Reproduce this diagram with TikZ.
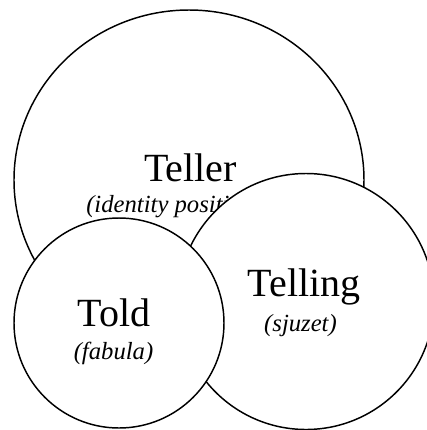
\documentclass[tikz,border=0pt]{standalone}
\usepackage{fontspec}
\setmainfont{Liberation Serif}
\tikzset{
  ring/.style={draw=black,line width=1.1pt,fill=white},
  bigword/.style={anchor=base,inner sep=0pt,font=\fontsize{30}{36}\selectfont},
  smallword/.style={anchor=base,inner sep=0pt,font=\fontsize{18.5}{22}\selectfont\itshape}
}
\begin{document}
\begin{tikzpicture}[x=0.75pt,y=-0.75pt]
\useasboundingbox (0,0) rectangle (427,430);
\clip (0,0) rectangle (427,430);
\draw[ring] (189,180) ellipse [x radius=175,y radius=170];
\node[bigword] (teller) at (190.5,181.5) {Teller};
\node[smallword,anchor=base west] (identity) at (86,212) {(identity position)};
\draw[ring] (306,301.5) circle [radius=128];
\node[bigword] (telling) at (304,296) {Telling};
\node[smallword] (sjuzet) at (300.5,331) {(sjuzet)};
\draw[ring] (119,323) circle [radius=105];
\node[bigword] (told) at (114,326) {Told};
\node[smallword] (fabula) at (113.5,359) {(fabula)};
\end{tikzpicture}
\end{document}
